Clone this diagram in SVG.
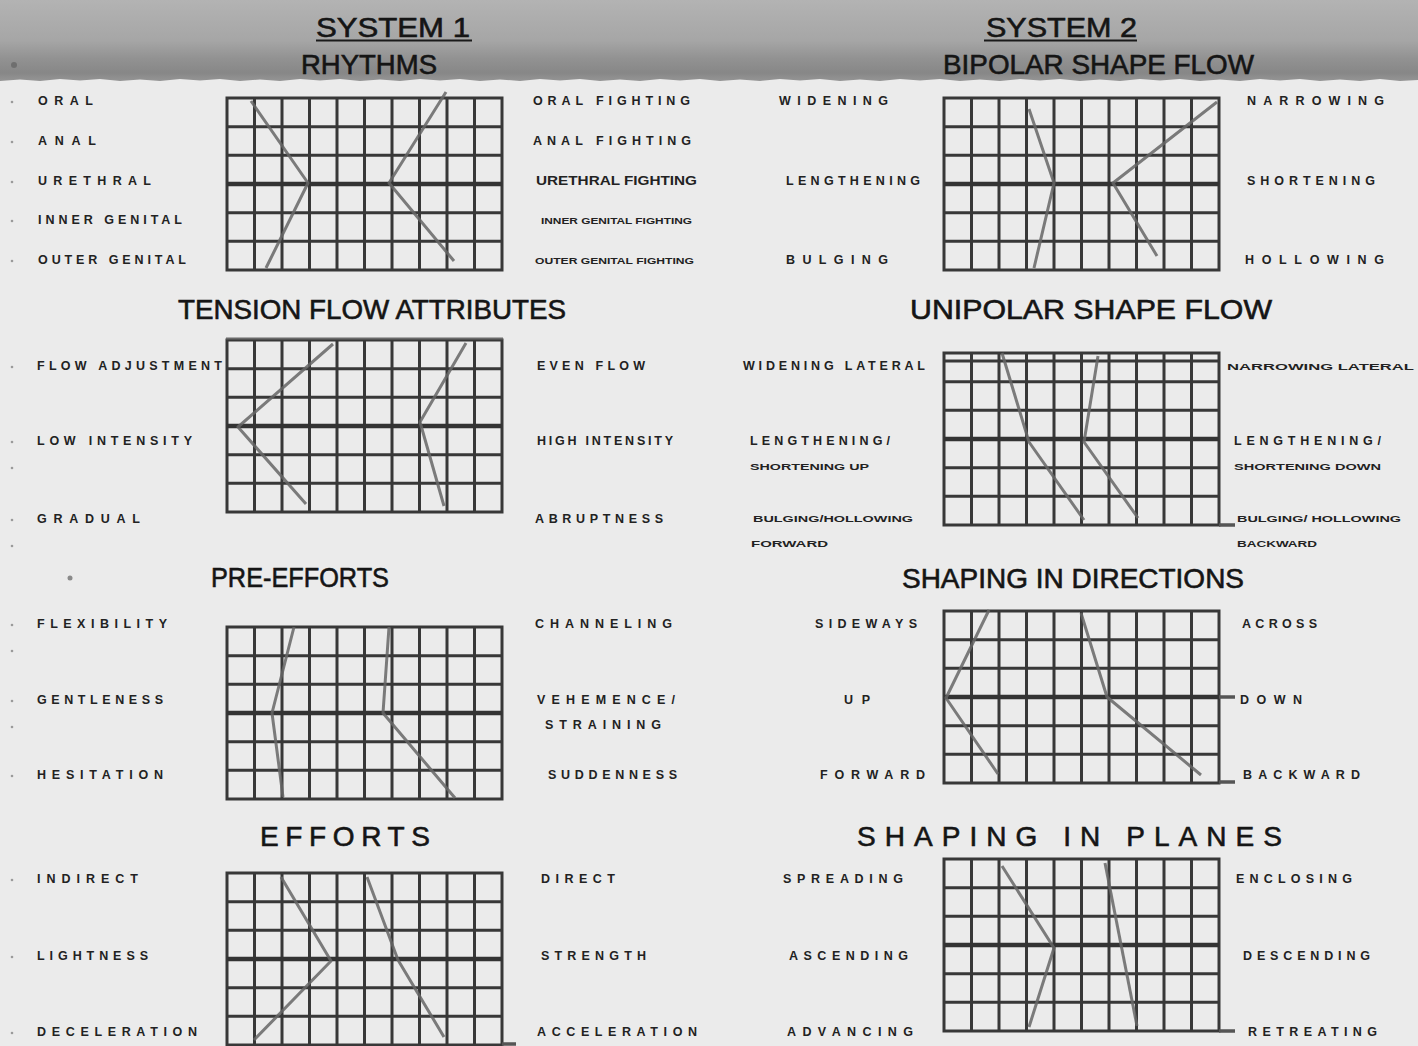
<svg xmlns="http://www.w3.org/2000/svg" xmlns:xlink="http://www.w3.org/1999/xlink" width="1418" height="1046" viewBox="0 0 1418 1046">
<style>
.ttl{font-family:"Liberation Sans",Arial,sans-serif;fill:#151515;font-size:28px;stroke:#151515;stroke-width:0.6}
.lb{font-family:"Liberation Sans",Arial,sans-serif;font-size:12.5px;font-weight:bold;fill:#222}
.sm{font-size:9.5px}
.gl{stroke:#383838;stroke-width:3;fill:none}
.gm{stroke:#333;stroke-width:4.5;fill:none}
.dl{stroke:#666;stroke-width:3;fill:none;stroke-opacity:0.85;stroke-linejoin:round}
.ext{stroke:#555;stroke-width:3.5;fill:none}
.dot{fill:#9a9a9a}
</style>
<defs>
<linearGradient id="hdr" x1="0" y1="0" x2="0" y2="1">
<stop offset="0" stop-color="#b3b3b3"/>
<stop offset="0.5" stop-color="#a6a6a6"/>
<stop offset="0.72" stop-color="#929292"/>
<stop offset="0.9" stop-color="#878787"/>
<stop offset="1" stop-color="#959595"/>
</linearGradient>
<g id="grid">
<rect x="0" y="0" width="275" height="172" class="gl" stroke-width="3.5"/>
<path class="gl" d="M27.5 0V172M55 0V172M82.5 0V172M110 0V172M165 0V172M192.5 0V172M220 0V172M247.5 0V172M0 28.7H275M0 57.3H275M0 114.7H275M0 143.3H275"/>
<path class="gl" stroke-width="3.6" d="M137.5 0V172"/>
<path class="gm" d="M0 86H275"/>
</g>
</defs>
<rect width="1418" height="1046" fill="#ebebeb"/>
<g id="header">
<path d="M0 0H1418V80L1400 81L1380 79L1360 81L1340 79.5L1320 81L1300 79L1280 80.5L1260 79L1240 81L1220 79.5L1200 81L1180 79L1160 80.5L1140 79L1120 81L1100 79.5L1080 81L1060 79L1040 80.5L1020 79L1000 81L980 79.5L960 81L940 79L920 80.5L900 79L880 81L860 79.5L840 81L820 79L800 80.5L780 79L760 81L740 79.5L720 81L700 79L680 80.5L660 79L640 81L620 79.5L600 81L580 79L560 80.5L540 79L520 81L500 79.5L480 81L460 79L440 80.5L420 79L400 81L380 79.5L360 81L340 79L320 80.5L300 79L280 81L260 79.5L240 81L220 79L200 80.5L180 79L160 81L140 79.5L120 81L100 79L80 80.5L60 79L40 81L20 79.5L0 81Z" fill="url(#hdr)"/>
<circle cx="14" cy="65" r="3" fill="#6f6f6f"/>
</g>
<g id="rhythms">
<text class="ttl" x="316" y="37" font-size="33" textLength="154" lengthAdjust="spacingAndGlyphs">SYSTEM 1</text>
<line x1="316" y1="40.5" x2="472" y2="40.5" stroke="#1a1a1a" stroke-width="2"/>
<text class="ttl" x="301" y="74" textLength="136" lengthAdjust="spacingAndGlyphs">RHYTHMS</text>
<use xlink:href="#grid" x="227" y="98"/>
<polyline class="dl" points="251,101 308,183 266,268"/>
<polyline class="dl" points="446,92 389,183 454,261"/>
<text class="lb" x="38" y="104.5" textLength="55" lengthAdjust="spacing">ORAL</text>
<text class="lb" x="38" y="144.5" textLength="58" lengthAdjust="spacing">ANAL</text>
<text class="lb" x="38" y="184.5" textLength="113" lengthAdjust="spacing">URETHRAL</text>
<text class="lb" x="38" y="223.5" textLength="144" lengthAdjust="spacing">INNER GENITAL</text>
<text class="lb" x="38" y="263.5" textLength="148" lengthAdjust="spacing">OUTER GENITAL</text>
<text class="lb" x="533" y="104.5" textLength="157" lengthAdjust="spacing">ORAL FIGHTING</text>
<text class="lb" x="533" y="144.5" textLength="158" lengthAdjust="spacing">ANAL FIGHTING</text>
<text class="lb" x="536" y="184.5" textLength="161" lengthAdjust="spacingAndGlyphs">URETHRAL FIGHTING</text>
<text class="lb sm" x="541" y="223.5" textLength="151" lengthAdjust="spacingAndGlyphs">INNER GENITAL FIGHTING</text>
<text class="lb sm" x="535" y="263.5" textLength="159" lengthAdjust="spacingAndGlyphs">OUTER GENITAL FIGHTING</text>
<circle class="dot" cx="12" cy="102" r="1.3"/><circle class="dot" cx="12" cy="142" r="1.3"/><circle class="dot" cx="12" cy="182" r="1.3"/><circle class="dot" cx="12" cy="221" r="1.3"/><circle class="dot" cx="12" cy="261" r="1.3"/>
</g>
<g id="bipolar">
<text class="ttl" x="986" y="37" font-size="33" textLength="151" lengthAdjust="spacingAndGlyphs">SYSTEM 2</text>
<line x1="984" y1="40.5" x2="1137" y2="40.5" stroke="#1a1a1a" stroke-width="2"/>
<text class="ttl" x="943" y="74" textLength="311" lengthAdjust="spacingAndGlyphs">BIPOLAR SHAPE FLOW</text>
<use xlink:href="#grid" x="944" y="98"/>
<polyline class="dl" points="1029,109 1054,183 1034,268"/>
<polyline class="dl" points="1217,102 1113,183 1157,256"/>
<text class="lb" x="779" y="104.5" textLength="109" lengthAdjust="spacing">WIDENING</text>
<text class="lb" x="786" y="184.5" textLength="134" lengthAdjust="spacing">LENGTHENING</text>
<text class="lb" x="786" y="263.5" textLength="102" lengthAdjust="spacing">BULGING</text>
<text class="lb" x="1247" y="104.5" textLength="137" lengthAdjust="spacing">NARROWING</text>
<text class="lb" x="1247" y="184.5" textLength="128" lengthAdjust="spacing">SHORTENING</text>
<text class="lb" x="1245" y="263.5" textLength="139" lengthAdjust="spacing">HOLLOWING</text>
</g>
<g id="tension-flow">
<text class="ttl" x="178" y="319" textLength="388" lengthAdjust="spacingAndGlyphs">TENSION FLOW ATTRIBUTES</text>
<use xlink:href="#grid" x="227" y="340"/>
<line x1="226" y1="338.5" x2="503" y2="338.5" stroke="#6a6a6a" stroke-width="2"/>
<polyline class="dl" points="333,344 238,427 306,504"/>
<polyline class="dl" points="466,343 420,422 444,506"/>
<text class="lb" x="37" y="369.5" textLength="185" lengthAdjust="spacing">FLOW ADJUSTMENT</text>
<text class="lb" x="37" y="444.5" textLength="155" lengthAdjust="spacing">LOW INTENSITY</text>
<text class="lb" x="37" y="522.5" textLength="103" lengthAdjust="spacing">GRADUAL</text>
<text class="lb" x="537" y="369.5" textLength="108" lengthAdjust="spacing">EVEN FLOW</text>
<text class="lb" x="537" y="444.5" textLength="136" lengthAdjust="spacing">HIGH INTENSITY</text>
<text class="lb" x="535" y="522.5" textLength="128" lengthAdjust="spacing">ABRUPTNESS</text>
<circle class="dot" cx="12" cy="367" r="1.3"/><circle class="dot" cx="12" cy="442" r="1.3"/><circle class="dot" cx="12" cy="468" r="1.3"/><circle class="dot" cx="12" cy="520" r="1.3"/><circle class="dot" cx="12" cy="546" r="1.3"/>
</g>
<g id="unipolar">
<text class="ttl" x="910" y="319" textLength="362" lengthAdjust="spacingAndGlyphs">UNIPOLAR SHAPE FLOW</text>
<use xlink:href="#grid" x="944" y="353"/>
<line class="gl" x1="944" y1="361" x2="1219" y2="361"/>
<line class="ext" x1="1219" y1="525" x2="1235" y2="525"/>
<polyline class="dl" points="1002,353 1029,442 1084,520"/>
<polyline class="dl" points="1098,356 1084,442 1138,518"/>
<text class="lb" x="743" y="369.5" textLength="182" lengthAdjust="spacing">WIDENING LATERAL</text>
<text class="lb" x="750" y="444.5" textLength="140" lengthAdjust="spacing">LENGTHENING/</text>
<text class="lb sm" x="750" y="470" textLength="119" lengthAdjust="spacingAndGlyphs">SHORTENING UP</text>
<text class="lb sm" x="753" y="522" textLength="160" lengthAdjust="spacingAndGlyphs">BULGING/HOLLOWING</text>
<text class="lb sm" x="751" y="547" textLength="77" lengthAdjust="spacingAndGlyphs">FORWARD</text>
<text class="lb sm" x="1227" y="369.5" textLength="187" lengthAdjust="spacingAndGlyphs">NARROWING LATERAL</text>
<text class="lb" x="1234" y="444.5" textLength="147" lengthAdjust="spacing">LENGTHENING/</text>
<text class="lb sm" x="1234" y="470" textLength="147" lengthAdjust="spacingAndGlyphs">SHORTENING DOWN</text>
<text class="lb sm" x="1237" y="522" textLength="164" lengthAdjust="spacingAndGlyphs">BULGING/ HOLLOWING</text>
<text class="lb sm" x="1237" y="547" textLength="80" lengthAdjust="spacingAndGlyphs">BACKWARD</text>
</g>
<g id="pre-efforts">
<text class="ttl" x="211" y="587" textLength="178" lengthAdjust="spacingAndGlyphs">PRE-EFFORTS</text>
<circle cx="70" cy="578" r="2.5" fill="#8a8a8a"/>
<use xlink:href="#grid" x="227" y="627"/>
<polyline class="dl" points="294,627 272,713 283,797"/>
<polyline class="dl" points="389,627 383,713 455,798"/>
<text class="lb" x="37" y="627.5" textLength="130" lengthAdjust="spacing">FLEXIBILITY</text>
<text class="lb" x="37" y="703.5" textLength="126" lengthAdjust="spacing">GENTLENESS</text>
<text class="lb" x="37" y="778.5" textLength="126" lengthAdjust="spacing">HESITATION</text>
<text class="lb" x="535" y="627.5" textLength="137" lengthAdjust="spacing">CHANNELING</text>
<text class="lb" x="537" y="703.5" textLength="138" lengthAdjust="spacing">VEHEMENCE/</text>
<text class="lb" x="545" y="728.5" textLength="116" lengthAdjust="spacing">STRAINING</text>
<text class="lb" x="548" y="778.5" textLength="129" lengthAdjust="spacing">SUDDENNESS</text>
<circle class="dot" cx="12" cy="625" r="1.3"/><circle class="dot" cx="12" cy="651" r="1.3"/><circle class="dot" cx="12" cy="701" r="1.3"/><circle class="dot" cx="12" cy="727" r="1.3"/><circle class="dot" cx="12" cy="776" r="1.3"/>
</g>
<g id="shaping-directions">
<text class="ttl" x="902" y="588" textLength="342" lengthAdjust="spacingAndGlyphs">SHAPING IN DIRECTIONS</text>
<use xlink:href="#grid" x="944" y="611"/>
<line class="ext" x1="1219" y1="697" x2="1235" y2="697"/>
<line class="ext" x1="1219" y1="782" x2="1235" y2="782"/>
<polyline class="dl" points="989,610 946,698 998,774"/>
<polyline class="dl" points="1081,613 1107,697 1201,775"/>
<text class="lb" x="815" y="627.5" textLength="102" lengthAdjust="spacing">SIDEWAYS</text>
<text class="lb" x="844" y="703.5" textLength="26" lengthAdjust="spacing">UP</text>
<text class="lb" x="820" y="778.5" textLength="105" lengthAdjust="spacing">FORWARD</text>
<text class="lb" x="1242" y="627.5" textLength="75" lengthAdjust="spacing">ACROSS</text>
<text class="lb" x="1240" y="703.5" textLength="62" lengthAdjust="spacing">DOWN</text>
<text class="lb" x="1243" y="778.5" textLength="117" lengthAdjust="spacing">BACKWARD</text>
</g>
<g id="efforts">
<text class="ttl" x="260" y="846" textLength="170" lengthAdjust="spacing">EFFORTS</text>
<use xlink:href="#grid" x="227" y="873"/>
<line class="ext" x1="502" y1="1044" x2="516" y2="1044"/>
<polyline class="dl" points="281,877 331,961 254,1040"/>
<polyline class="dl" points="367,877 398,960 444,1037"/>
<text class="lb" x="37" y="882.5" textLength="101" lengthAdjust="spacing">INDIRECT</text>
<text class="lb" x="37" y="959.5" textLength="111" lengthAdjust="spacing">LIGHTNESS</text>
<text class="lb" x="37" y="1035.5" textLength="160" lengthAdjust="spacing">DECELERATION</text>
<text class="lb" x="541" y="882.5" textLength="74" lengthAdjust="spacing">DIRECT</text>
<text class="lb" x="541" y="959.5" textLength="105" lengthAdjust="spacing">STRENGTH</text>
<text class="lb" x="537" y="1035.5" textLength="160" lengthAdjust="spacing">ACCELERATION</text>
<circle class="dot" cx="12" cy="880" r="1.3"/><circle class="dot" cx="12" cy="957" r="1.3"/><circle class="dot" cx="12" cy="1033" r="1.3"/>
</g>
<g id="shaping-planes">
<text class="ttl" x="857" y="846" textLength="425" lengthAdjust="spacing">SHAPING IN PLANES</text>
<use xlink:href="#grid" x="944" y="859"/>
<line class="ext" x1="1219" y1="1031" x2="1235" y2="1031"/>
<polyline class="dl" points="1002,866 1054,948 1029,1027"/>
<polyline class="dl" points="1105,863 1137,1026"/>
<text class="lb" x="783" y="882.5" textLength="120" lengthAdjust="spacing">SPREADING</text>
<text class="lb" x="789" y="959.5" textLength="119" lengthAdjust="spacing">ASCENDING</text>
<text class="lb" x="787" y="1035.5" textLength="126" lengthAdjust="spacing">ADVANCING</text>
<text class="lb" x="1236" y="882.5" textLength="116" lengthAdjust="spacing">ENCLOSING</text>
<text class="lb" x="1243" y="959.5" textLength="127" lengthAdjust="spacing">DESCENDING</text>
<text class="lb" x="1248" y="1035.5" textLength="129" lengthAdjust="spacing">RETREATING</text>
</g>
</svg>
